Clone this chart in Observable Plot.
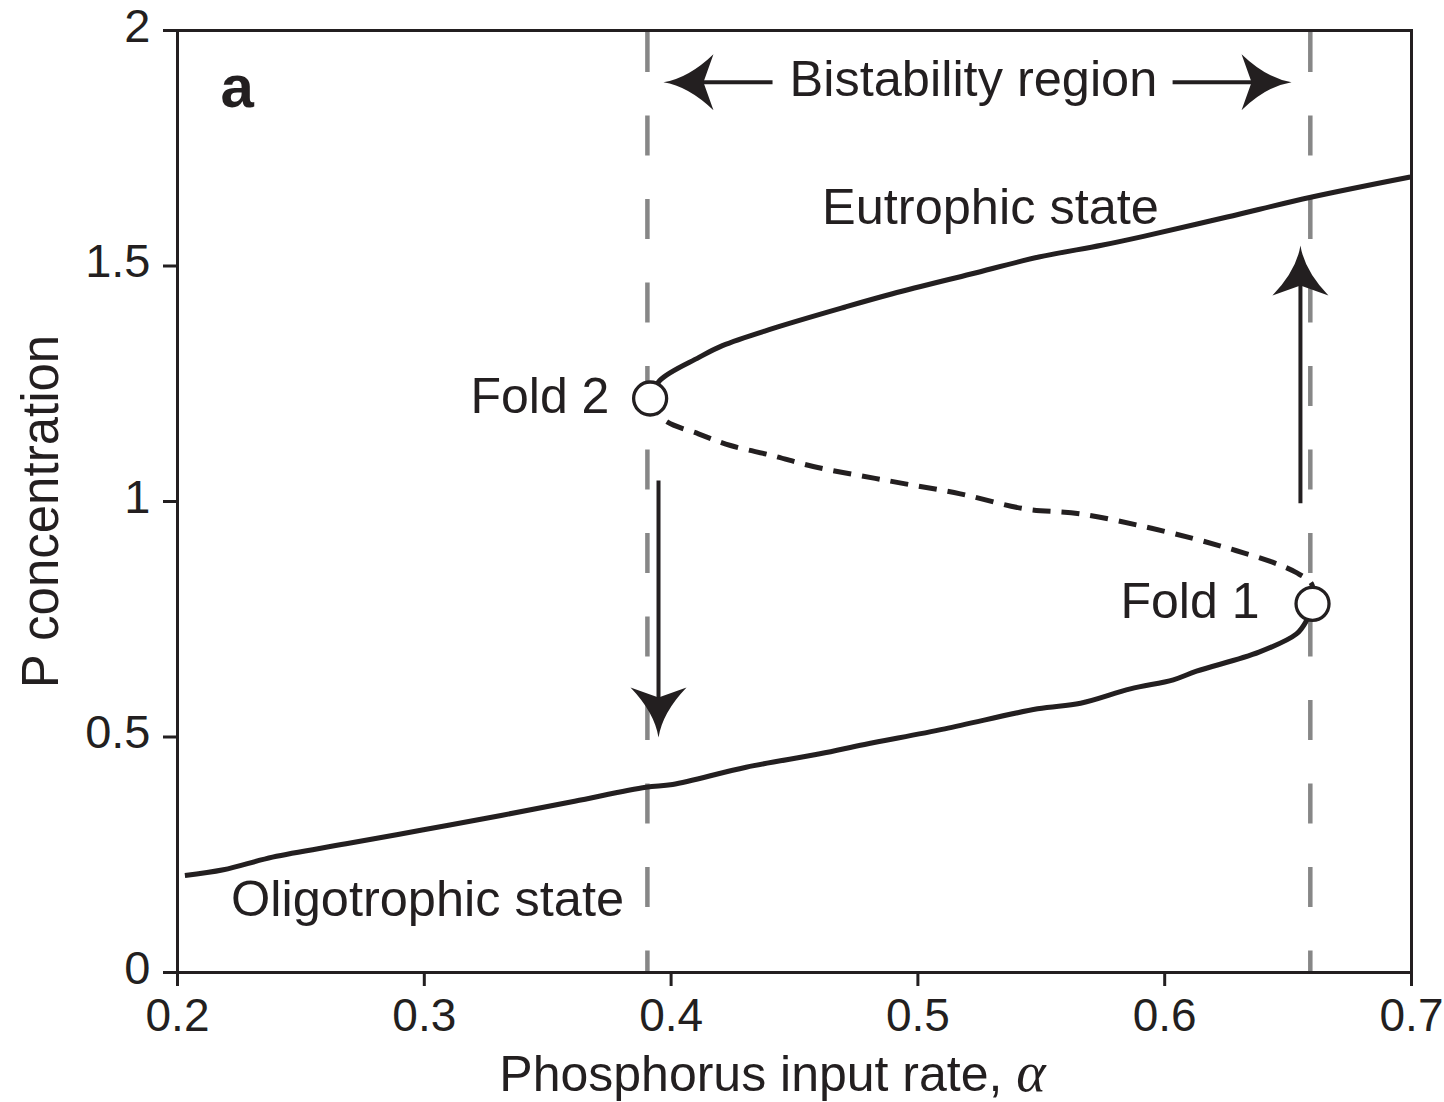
<!DOCTYPE html>
<html>
<head>
<meta charset="utf-8">
<script src="https://cdn.jsdelivr.net/npm/d3@7"></script>
<script src="https://cdn.jsdelivr.net/npm/@observablehq/plot@0.6"></script>
<style>
  html, body { margin: 0; padding: 0; background: #fff; }
  #chart { width: 1444px; height: 1102px; }
</style>
</head>
<body>
<div id="chart"></div>
<script>
// ---------- data ----------
const xTicks = [0.2, 0.3, 0.4, 0.5, 0.6, 0.7];
const yTicks = [0, 0.5, 1, 1.5, 2];

// stable upper branch (eutrophic)
const eutrophicAlpha = [0.3915, 0.3954, 0.4113, 0.4208, 0.4410, 0.4706, 0.4897, 0.5215, 0.5490, 0.5744, 0.5914, 0.6253, 0.6592, 0.6995];
const eutrophicP     = [1.2187, 1.2570, 1.3060, 1.3310, 1.3670, 1.4130, 1.4410, 1.4830, 1.5190, 1.5440, 1.5630, 1.6040, 1.6460, 1.6890];

// unstable middle branch
const unstableAlpha = [0.3915, 0.3972, 0.4111, 0.4241, 0.4409, 0.4576, 0.4763, 0.4949, 0.5172, 0.5432, 0.5655, 0.5897, 0.6120, 0.6288, 0.6437, 0.6530, 0.6595, 0.6599];
const unstableP     = [1.2187, 1.1734, 1.1437, 1.1189, 1.0977, 1.0743, 1.0552, 1.0375, 1.0163, 0.9845, 0.9739, 0.9490, 0.9208, 0.8960, 0.8711, 0.8499, 0.8253, 0.7828];

// stable lower branch (oligotrophic)
const oligoAlpha = [0.2030, 0.2186, 0.2385, 0.2683, 0.2997, 0.3311, 0.3609, 0.3898, 0.4006, 0.4304, 0.4603, 0.4784, 0.5109, 0.5485, 0.5659, 0.5861, 0.6035, 0.6129, 0.6382, 0.6534, 0.6571, 0.6599];
const oligoP     = [0.2059, 0.2180, 0.2449, 0.2732, 0.3030, 0.3333, 0.3637, 0.3934, 0.3992, 0.4359, 0.4643, 0.4841, 0.5173, 0.5599, 0.5718, 0.6023, 0.6214, 0.6397, 0.6801, 0.7190, 0.7438, 0.7828];

// fold (saddle-node) points
const foldNames = ["Fold 2", "Fold 1"];
const foldAlpha = [0.3915, 0.6599];
const foldP     = [1.2187, 0.7828];

// bistability bounds (dashed verticals)
const bistabilityBounds = [0.3904, 0.6590];

// arrows: start -> tip
const arrowX1 = [0.4411, 0.6032, 0.3949, 0.6550];
const arrowY1 = [1.8903, 1.8903, 1.0446, 0.9964];
const arrowX2 = [0.3969, 0.6514, 0.3949, 0.6550];
const arrowY2 = [1.8903, 1.8903, 0.4990, 1.5435];

// annotations
const labelText  = ["a", "Bistability region", "Eutrophic state", "Fold 2", "Fold 1", "Oligotrophic state"];
const labelAlpha = [0.2174, 0.5225, 0.5294, 0.3750, 0.6384, 0.3013];
const labelP     = [1.8386, 1.8600, 1.5900, 1.1870, 0.7537, 0.1210];

const xTitle = "Phosphorus input rate, α";
const yTitle = "P concentration";

// ---------- build tables ----------
const zip = (xs, ys) => xs.map((x, i) => ({x, y: ys[i]}));
const eutrophic = zip(eutrophicAlpha, eutrophicP);
const unstable = zip(unstableAlpha, unstableP);
const oligo = zip(oligoAlpha, oligoP);
const folds = foldNames.map((name, i) => ({name, x: foldAlpha[i], y: foldP[i]}));
const arrows = arrowX1.map((x1, i) => ({x1, y1: arrowY1[i], x2: arrowX2[i], y2: arrowY2[i]}));
const labels = labelText.map((text, i) => ({text, x: labelAlpha[i], y: labelP[i]}));

const INK = "#231f20";
const GRAY = "#878787";
const FONT = "'Liberation Sans', Arial, Helvetica, sans-serif";

// concave filled arrowhead, tip at origin pointing up
const arrowHead = {
  draw(ctx) {
    ctx.moveTo(0, 0);
    ctx.quadraticCurveTo(4, 25, 28, 50);
    ctx.lineTo(0, 40);
    ctx.lineTo(-28, 50);
    ctx.quadraticCurveTo(-4, 25, 0, 0);
    ctx.closePath();
  }
};
const arrowAngle = d => Math.atan2(Math.sign(d.x2 - d.x1), Math.sign(d.y2 - d.y1)) * 180 / Math.PI;

const endLabels = new Set(["Fold 1", "Fold 2"]);
const startLabels = new Set(["a"]);

const plot = Plot.plot({
  width: 1444,
  height: 1102,
  marginLeft: 177,
  marginRight: 33,
  marginTop: 30,
  marginBottom: 130,
  x: {domain: [0.2, 0.7]},
  y: {domain: [0, 2]},
  style: {fontFamily: FONT, fontSize: "46px", color: INK, background: "#fff"},
  marks: [
    Plot.ruleX(bistabilityBounds, {stroke: GRAY, strokeWidth: 4.5, strokeDasharray: "40,43.5", strokeDashoffset: -2}),
    Plot.line(oligo, {x: "x", y: "y", stroke: INK, strokeWidth: 5, curve: "catmull-rom", strokeLinecap: "butt"}),
    Plot.line(eutrophic, {x: "x", y: "y", stroke: INK, strokeWidth: 5, curve: "catmull-rom", strokeLinecap: "butt"}),
    Plot.line(unstable, {x: "x", y: "y", stroke: INK, strokeWidth: 5, curve: "catmull-rom", strokeDasharray: "18,11", strokeLinecap: "butt"}),
    Plot.arrow(arrows, {x1: "x1", y1: "y1", x2: "x2", y2: "y2", headLength: 0, insetEnd: 35, stroke: INK, strokeWidth: 4, strokeLinecap: "butt"}),
    Plot.dot(arrows, {x: "x2", y: "y2", symbol: arrowHead, rotate: arrowAngle, fill: INK, stroke: "none", r: 10}),
    Plot.dot(folds, {x: "x", y: "y", r: 16.5, fill: "#fff", stroke: INK, strokeWidth: 3.3}),
    Plot.text(labels.filter(d => !endLabels.has(d.text) && !startLabels.has(d.text)), {x: "x", y: "y", text: "text", textAnchor: "middle", lineAnchor: "bottom", fontSize: 50.5, fill: INK}),
    Plot.text(labels.filter(d => endLabels.has(d.text)), {x: "x", y: "y", text: "text", textAnchor: "end", lineAnchor: "bottom", fontSize: 50, fill: INK}),
    Plot.text(labels.filter(d => startLabels.has(d.text)), {x: "x", y: "y", text: "text", textAnchor: "start", lineAnchor: "bottom", fontSize: 60, fontWeight: "bold", fill: INK}),
    Plot.frame({stroke: INK, strokeWidth: 3}),
    // x axis: ticks, then labels
    Plot.axisX(xTicks, {tickSize: 14, strokeWidth: 3, stroke: INK, fill: "none", label: null}),
    Plot.axisX(xTicks, {tickSize: 14, tickPadding: 12, stroke: "none", fill: INK, tickFormat: d => String(d), fontSize: 46, label: null}),
    // y axis: ticks, then labels
    Plot.axisY(yTicks, {tickSize: 14, strokeWidth: 3, stroke: INK, fill: "none", label: null}),
    Plot.axisY(yTicks, {tickSize: 14, tickPadding: 13, dy: -4, stroke: "none", fill: INK, tickFormat: d => String(d), fontSize: 47, label: null}),
    Plot.text([xTitle], {text: d => d, frameAnchor: "bottom", textAnchor: "middle", dx: -22, dy: 118, lineAnchor: "bottom", fontSize: 50, fill: INK}),
    Plot.text([yTitle], {text: d => d, frameAnchor: "left", textAnchor: "middle", rotate: -90, dx: -120, dy: 10, lineAnchor: "bottom", fontSize: 51, fill: INK})
  ]
});

// render the α of the x title as an italic math symbol
for (const t of plot.querySelectorAll("text")) {
  if (t.textContent === xTitle) {
    t.textContent = xTitle.slice(0, -1);
    const ts = document.createElementNS("http://www.w3.org/2000/svg", "tspan");
    ts.setAttribute("font-family", "'Liberation Serif', 'DejaVu Serif', serif");
    ts.setAttribute("font-style", "italic");
    ts.setAttribute("font-size", "56");
    ts.textContent = "α";
    t.appendChild(ts);
  }
}

document.getElementById("chart").appendChild(plot);
</script>
</body>
</html>
